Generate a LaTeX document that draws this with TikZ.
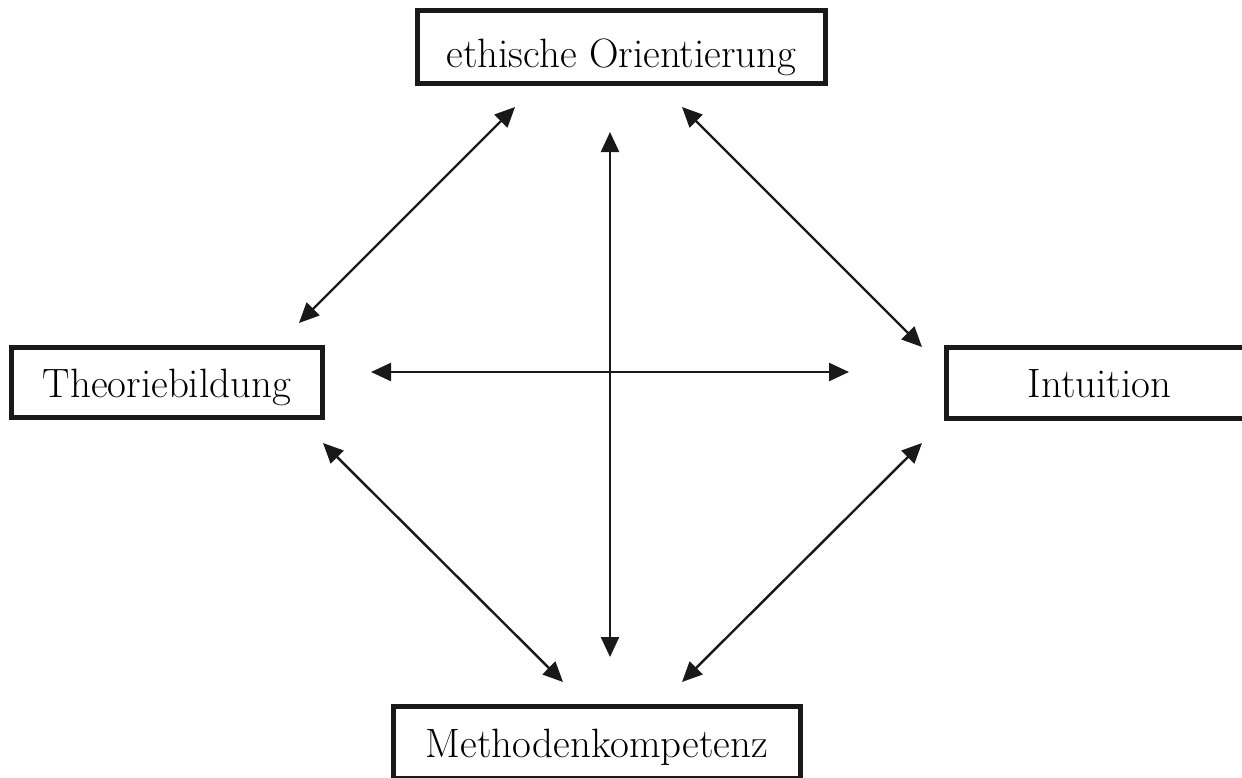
\documentclass[tikz,border=0pt]{standalone}
\usetikzlibrary{arrows.meta}
\begin{document}
\begin{tikzpicture}[x=1pt,y=-1pt,
  box/.style={draw=black!90, line width=5pt, inner sep=0pt, fill=none,
    text depth=4pt, text height=33pt,
    font=\fontsize{41}{48}\selectfont},
  dbl/.style={line width=2.4pt, draw=black!90,
    {Triangle[length=20pt,width=18pt]}-{Triangle[length=20pt,width=18pt]}}]
\useasboundingbox (0,0) rectangle (1242,777);
\begin{scope}
\clip (0,0) rectangle (1242,777);
\node[box, text height=44pt, minimum width=408pt, minimum height=73pt] (eth) at (621.5,47) {ethische Orientierung};
\node[box, minimum width=311pt, minimum height=70pt] (theo) at (167,382.5) {Theoriebildung};
\node[box, text height=32pt, minimum width=306pt, minimum height=71pt] (int) at (1099.5,383) {Intuition};
\node[box, minimum width=407pt, minimum height=72pt] (meth) at (597,742.5) {Methodenkompetenz};
\end{scope}
% arrow end points
\coordinate (tlA) at (515,107);
\coordinate (tlB) at (299,323);
\coordinate (trA) at (682,107);
\coordinate (trB) at (922,347);
\coordinate (blA) at (323,443);
\coordinate (blB) at (563,682);
\coordinate (brA) at (922,443);
\coordinate (brB) at (682,682);
\coordinate (vT) at (610,132);
\coordinate (vB) at (610,657);
\coordinate (hL) at (371,372);
\coordinate (hR) at (849,372);
\draw[dbl] (tlA) -- (tlB);
\draw[dbl] (trA) -- (trB);
\draw[dbl] (blA) -- (blB);
\draw[dbl] (brA) -- (brB);
\draw[dbl] (vT) -- (vB);
\draw[dbl] (hL) -- (hR);
\end{tikzpicture}
\end{document}
